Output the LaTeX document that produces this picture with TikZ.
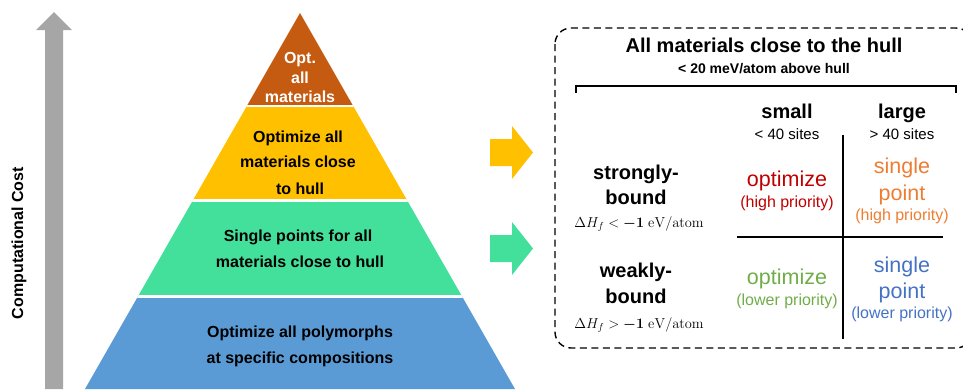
\documentclass[tikz,border=0pt]{standalone}
\usepackage{amsmath,bm}
\usepackage[no-math]{fontspec}
\setmainfont{Liberation Sans}
\definecolor{tOrange}{HTML}{C55A11}
\definecolor{tYellow}{HTML}{FFC000}
\definecolor{tGreen}{HTML}{43E09B}
\definecolor{tBlue}{HTML}{5B9BD5}
\definecolor{tGray}{HTML}{A6A6A6}
\definecolor{cRed}{HTML}{C00000}
\definecolor{cOrange}{HTML}{ED7D31}
\definecolor{cGreen}{HTML}{70AD47}
\definecolor{cBlue}{HTML}{4472C4}
\begin{document}
\begin{tikzpicture}[x=1pt,y=-1pt,
  ptxt/.style={anchor=base,inner sep=0pt,font=\fontsize{16}{19}\selectfont\bfseries},
  wtxt/.style={ptxt,text=white},
  head/.style={anchor=base,inner sep=0pt,font=\fontsize{20}{24}\selectfont\bfseries},
  sub/.style={anchor=base,inner sep=0pt,font=\fontsize{15}{18}\selectfont},
  big/.style={anchor=base,inner sep=0pt,font=\fontsize{21.5}{25}\selectfont},
  prio/.style={anchor=base,inner sep=0pt,font=\fontsize{16}{19}\selectfont},
  frm/.style={anchor=base,inner sep=0pt,font=\fontsize{14.5}{17}\selectfont},
  rule/.style={line width=2pt},
]
\useasboundingbox (0,0) rectangle (963,389);
% cost arrow
\fill[tGray] (45,389) -- (45,30) -- (36,30) -- (54,12) -- (72,30) -- (63,30) -- (63,389) -- cycle;
\node[rotate=90,inner sep=0pt,font=\fontsize{16}{19}\selectfont\bfseries] (cost) at (19,243) {Computational Cost};
% pyramid
\begin{scope}
\clip (300,13) -- (85,389) -- (515,389) -- cycle;
\fill[tOrange] (80,10) rectangle (520,106);
\fill[tYellow] (80,106) rectangle (520,200.5);
\fill[tGreen] (80,200.5) rectangle (520,296.5);
\fill[tBlue] (80,296.5) rectangle (520,392);
\draw[white,line width=2.6pt] (80,106) -- (520,106) (80,200.5) -- (520,200.5) (80,296.5) -- (520,296.5);
\end{scope}
\node[wtxt] (o1) at (300,63) {Opt.};
\node[wtxt] (o2) at (300,83) {all};
\node[wtxt] (o3) at (300,102) {materials};
\node[ptxt] (y1) at (298,142) {Optimize all};
\node[ptxt] (y2) at (298,167.5) {materials close};
\node[ptxt] (y3) at (300,194) {to hull};
\node[ptxt] (g1) at (298,241) {Single points for all};
\node[ptxt] (g2) at (300,267) {materials close to hull};
\node[ptxt] (b1) at (300,337) {Optimize all polymorphs};
\node[ptxt] (b2) at (300,363) {at specific compositions};
% side arrows
\fill[tYellow] (490,139) -- (512,139) -- (512,126) -- (533,152.5) -- (512,179) -- (512,166) -- (490,166) -- cycle;
\fill[tGreen] (490,235) -- (512,235) -- (512,222) -- (533,248.5) -- (512,275) -- (512,262) -- (490,262) -- cycle;
% dashed box
\draw[line width=1.4pt,dash pattern=on 7pt off 4.5pt,rounded corners=16pt] (555,28) rectangle (972,348);
\node[head] (title) at (764,52) {All materials close to the hull};
\node[anchor=base,inner sep=0pt,font=\fontsize{14}{17}\selectfont\bfseries] (subt) at (764,73) {< 20 meV/atom above hull};
\draw[line width=1.4pt] (576,93) -- (576,86) -- (956,86) -- (956,93);
% column heads
\node[head] (small) at (787,118) {small};
\node[sub] (smalls) at (787,139) {< 40 sites};
\node[head] (large) at (902,118) {large};
\node[sub] (larges) at (902,139) {> 40 sites};
% rules
\draw[rule] (843,135) -- (843,339);
\draw[rule] (737,237) -- (943,237);
% row heads
\node[head] (s1) at (636,179) {strongly-};
\node[head] (s2) at (636,204) {bound};
\node[frm] (sf) at (639,227) {$\Delta H_f < \bm{-1}\ \mathrm{eV/atom}$};
\node[head] (w1) at (636,277) {weakly-};
\node[head] (w2) at (636,303) {bound};
\node[frm] (wf) at (639,328) {$\Delta H_f > \bm{-1}\ \mathrm{eV/atom}$};
% cells
\node[big,text=cRed] (c1a) at (787,186) {optimize};
\node[prio,text=cRed] (c1b) at (787,207) {(high priority)};
\node[big,text=cOrange] (c2a) at (902,173) {single};
\node[big,text=cOrange] (c2b) at (902,200) {point};
\node[prio,text=cOrange] (c2c) at (902,220) {(high priority)};
\node[big,text=cGreen] (c3a) at (787,284) {optimize};
\node[prio,text=cGreen] (c3b) at (787,305) {(lower priority)};
\node[big,text=cBlue] (c4a) at (902,272) {single};
\node[big,text=cBlue] (c4b) at (902,298) {point};
\node[prio,text=cBlue] (c4c) at (902,318) {(lower priority)};
\end{tikzpicture}
\end{document}
